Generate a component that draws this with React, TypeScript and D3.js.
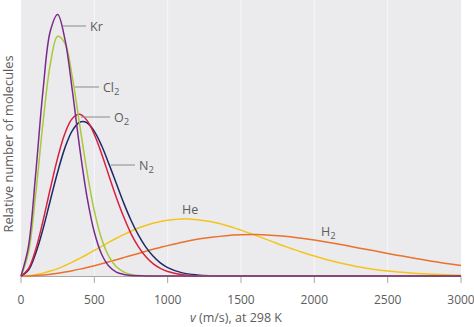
import React from "react";
import * as d3 from "d3";

const speeds = [0,50,100,150,200,250,300,350,400,450,500,550,600,650,700,750,800,850,900,950,1000,
  1100,1200,1300,1400,1500,1600,1700,1800,1900,2000,2100,2200,2300,2400,2500,2600,2700,2800,2900,3000];

const kr = [0,11.0,38.9,70.8,93.5,99.8,90.2,70.8,49.0,30.2,16.7,8.3,3.7,1.5,0.6,0.2,0.1,0,0,0,0,
  0,0,0,0,0,0,0,0,0,0,0,0,0,0,0,0,0,0,0,0];
const cl2 = [0,8.7,31.1,58.5,80.9,91.5,88.8,75.8,57.8,39.8,24.8,14.1,7.4,3.5,1.6,0.6,0.2,0.1,0,0,0,
  0,0,0,0,0,0,0,0,0,0,0,0,0,0,0,0,0,0,0,0];
const o2 = [0,2.7,10.1,21.0,33.4,45.1,54.5,60.1,61.7,59.4,54.0,46.6,38.2,30.0,22.6,16.2,11.2,7.4,4.7,2.9,1.7,
  0.5,0.1,0,0,0,0,0,0,0,0,0,0,0,0,0,0,0,0,0,0];
const n2 = [0,2.2,8.6,17.9,28.9,39.7,49.0,55.5,58.7,58.5,55.2,49.7,42.7,35.3,27.9,21.3,15.7,11.1,7.6,5.0,3.2,
  1.2,0.4,0.1,0,0,0,0,0,0,0,0,0,0,0,0,0,0,0,0,0];
const he = [0,0.1,0.5,1.1,1.9,2.8,4.0,5.3,6.7,8.2,9.8,11.3,12.9,14.4,15.8,17.1,18.3,19.3,20.1,20.8,21.3,
  21.8,21.5,20.7,19.3,17.5,15.5,13.4,11.3,9.4,7.6,6.0,4.7,3.5,2.6,1.9,1.4,1.0,0.7,0.45,0.3];
const h2 = [0,0.04,0.17,0.39,0.69,1.06,1.52,2.04,2.62,3.26,3.95,4.67,5.43,6.21,7.01,7.82,8.62,9.41,10.2,10.9,11.6,
  12.9,14.0,14.8,15.4,15.7,15.8,15.6,15.2,14.5,13.7,12.8,11.8,10.7,9.7,8.6,7.6,6.6,5.6,4.8,4.0];

const xTicks = [0, 500, 1000, 1500, 2000, 2500, 3000];

const series = [
  { name: "He", values: he, color: "#f4c41c" },
  { name: "H2", values: h2, color: "#e8722e" },
  { name: "N2", values: n2, color: "#1f2a6b" },
  { name: "O2", values: o2, color: "#d9203f" },
  { name: "Cl2", values: cl2, color: "#a9c83a" },
  { name: "Kr", values: kr, color: "#7a2a8c" },
];

const W = 474, H = 327;
const x = d3.scaleLinear().domain([0, 3000]).range([21, 461]);
const y = d3.scaleLinear().domain([0, 100]).range([276, 14]);
const TXT = "#5d5d5d";
const FONT = "'Open Sans', 'Noto Sans', sans-serif";

function Label({ x1, x2, ly, label, sub }: { x1: number; x2: number; ly: number; label: string; sub?: string }) {
  return (
    <g>
      <line x1={x1} x2={x2} y1={ly} y2={ly} stroke="#8a8a8a" strokeWidth={1} />
      <text x={x2 + 4} y={ly + 4.5} fontSize={12.5} fill={TXT} fontFamily={FONT}>
        {label}
        {sub ? <tspan fontSize={9.5} dy={3}>{sub}</tspan> : null}
      </text>
    </g>
  );
}

export default function App() {
  const line = d3.line<number>()
    .x((_, i) => x(speeds[i]))
    .y((d) => y(d))
    .curve(d3.curveCatmullRom.alpha(0.5));

  return (
    <svg width={W} height={H} style={{ position: "fixed", left: 0, top: 0, background: "#fff" }}>
      <rect x={x(0)} y={0} width={x(3000) - x(0)} height={276} fill="#ebebed" />
      {xTicks.slice(1, -1).map((t) => (
        <line key={"g" + t} x1={x(t)} x2={x(t)} y1={0} y2={276} stroke="#f7f7f8" strokeWidth={1} />
      ))}
      <line x1={x(0)} x2={x(3000)} y1={276.5} y2={276.5} stroke="#a8a8a8" strokeWidth={1} />
      {xTicks.map((t) => (
        <g key={"t" + t}>
          <line x1={x(t)} x2={x(t)} y1={276} y2={283} stroke="#a8a8a8" strokeWidth={1} />
          <text x={x(t)} y={304} textAnchor="middle" fontSize={12} fill={TXT} fontFamily={FONT}>{t}</text>
        </g>
      ))}
      {series.map((s) => (
        <path key={s.name} d={line(s.values) || ""} fill="none" stroke={s.color} strokeWidth={1.5} />
      ))}
      <Label x1={63} x2={86} ly={26} label="Kr" />
      <Label x1={75} x2={99} ly={87} label="Cl" sub="2" />
      <Label x1={81} x2={110} ly={117} label="O" sub="2" />
      <Label x1={111} x2={135} ly={165} label="N" sub="2" />
      <text x={182} y={214} fontSize={12.5} fill={TXT} fontFamily={FONT}>He</text>
      <text x={321} y={236} fontSize={12.5} fill={TXT} fontFamily={FONT}>
        H<tspan fontSize={9.5} dy={3}>2</tspan>
      </text>
      <text x={236} y={322} textAnchor="middle" fontSize={12.5} fill={TXT} fontFamily={FONT}>
        <tspan fontStyle="italic">v</tspan> (m/s), at 298 K
      </text>
      <text transform="translate(12.5,144) rotate(-90)" textAnchor="middle" fontSize={12.8} fill={TXT} fontFamily={FONT}>
        Relative number of molecules
      </text>
    </svg>
  );
}
